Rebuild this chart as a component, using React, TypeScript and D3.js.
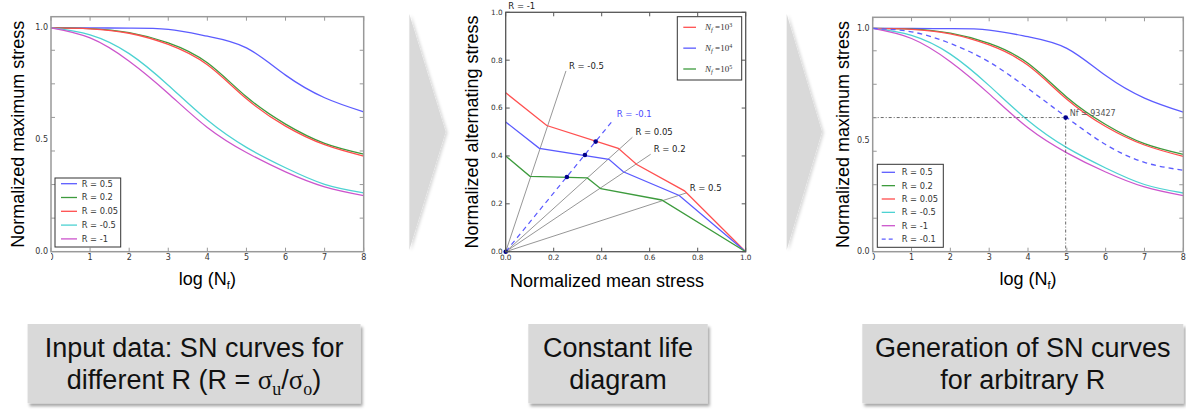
import React, { useRef, useEffect } from "react";
import * as d3 from "d3";

// SN curves: normalized maximum stress vs log(Nf)
const logN = [0, 1, 2, 3, 4, 5, 6, 7, 8];
const snR05 = [1.0, 1.0, 0.999, 0.993, 0.963, 0.911, 0.789, 0.688, 0.625];
const snR02 = [1.0, 0.997, 0.979, 0.933, 0.844, 0.692, 0.57, 0.484, 0.436];
const snR005 = [1.0, 0.996, 0.976, 0.926, 0.835, 0.683, 0.561, 0.478, 0.427];
const snRm05 = [1.0, 0.969, 0.885, 0.744, 0.588, 0.466, 0.375, 0.301, 0.263];
const snRm1 = [1.0, 0.955, 0.851, 0.707, 0.555, 0.443, 0.357, 0.29, 0.251];
const snRm01 = [1.0, 0.985, 0.933, 0.85, 0.731, 0.601, 0.48, 0.4, 0.365];
const snKeys = ["R = 0.5", "R = 0.2", "R = 0.05", "R = -0.5", "R = -1"];
const snColors = ["#5c5cff", "#3d9b3d", "#ff4d4d", "#4dd2d2", "#cc55cc"];
const newKey = "R = -0.1";
const newPoint = { logN: 4.97, stress: 0.601, label: "Nf = 93427" };

// constant life diagram: normalized mean stress / alternating stress
const cldExp = ["3", "4", "5"];
const cldMean = [
  [0, 0.171, 0.469, 0.546, 0.745, 1],
  [0, 0.14, 0.43, 0.49, 0.723, 1],
  [0, 0.101, 0.34, 0.396, 0.65, 1],
];
const cldAlt = [
  [0.664, 0.527, 0.432, 0.364, 0.254, 0],
  [0.542, 0.432, 0.386, 0.334, 0.235, 0],
  [0.4, 0.315, 0.308, 0.263, 0.216, 0],
];
const cldColors = ["#ff5050", "#5a5aff", "#3d9b3d"];
const rRayLabels = ["R = -0.5", "R = 0.05", "R = 0.2", "R = 0.5"];
const rRayMean = [0.251, 0.528, 0.604, 0.754];
const rRayAlt = [0.755, 0.478, 0.407, 0.246];
const newRayEnd = [0.442, 0.543];
const crossMean = [0.375, 0.33, 0.255, 0];
const crossAlt = [0.46, 0.404, 0.312, 0];

const snYLabels = [0, 0.5, 1.0];
const snYTicks = [0.15, 0.3, 0.45, 0.6, 0.75, 0.9];
const cldTicks = [0, 0.2, 0.4, 0.6, 0.8, 1.0];

// "|x|" marks a subscript
const captions = [
  ["Input data: SN curves for", "different R (R = σ|u|/σ|o|)"],
  ["Constant life", "diagram"],
  ["Generation of SN curves", "for arbitrary R"],
];

const SANS = "Liberation Sans, Arial, sans-serif";
const SERIF = "Liberation Serif, serif";
const TICKF = "DejaVu Sans, sans-serif";

const App = () => {
  const svgRef = useRef<SVGSVGElement>(null);

  useEffect(() => {
    const svg = d3.select(svgRef.current);
    svg.selectAll("*").remove();

    const defs = svg.append("defs");
    const shadow = defs.append("filter").attr("id", "shadow")
      .attr("x", "-10%").attr("y", "-10%").attr("width", "130%").attr("height", "140%");
    shadow.append("feDropShadow").attr("dx", 2).attr("dy", 3).attr("stdDeviation", 1.5)
      .attr("flood-color", "#000").attr("flood-opacity", 0.35);
    const ashadow = defs.append("filter").attr("id", "ashadow")
      .attr("x", "-20%").attr("y", "-10%").attr("width", "150%").attr("height", "120%");
    ashadow.append("feDropShadow").attr("dx", 2).attr("dy", 1).attr("stdDeviation", 1.5)
      .attr("flood-color", "#000").attr("flood-opacity", 0.15);

    // arrows between panels
    [[409.3, 445.7], [786.7, 822]].forEach(([l, r]) => {
      svg.append("polygon")
        .attr("points", `${l},14 ${r},131.7 ${l},250`)
        .attr("fill", "#d9d9d9")
        .attr("filter", "url(#ashadow)");
    });

    const drawSN = (f, withNew, legend) => {
      const x = d3.scaleLinear().domain([0, 8]).range([f.left, f.right]);
      const y = d3.scaleLinear().domain([0, 1.05]).range([f.bottom, f.top]);
      const g = svg.append("g");
      const line = d3.line<number>()
        .x((_, i) => x(logN[i]))
        .y((d) => y(d))
        .curve(d3.curveNatural);

      const series = [snR05, snR02, snR005, snRm05, snRm1];
      series.forEach((s, i) => {
        g.append("path").attr("d", line(s)).attr("fill", "none")
          .attr("stroke", snColors[i]).attr("stroke-width", 1.3);
      });

      if (withNew) {
        g.append("path").attr("d", line(snRm01)).attr("fill", "none")
          .attr("stroke", "#5c5cff").attr("stroke-width", 1.3).attr("stroke-dasharray", "5,4");
        const px = x(newPoint.logN);
        const py = y(newPoint.stress);
        g.append("line").attr("x1", x(0)).attr("x2", px).attr("y1", py).attr("y2", py)
          .attr("stroke", "#444").attr("stroke-width", 0.8).attr("stroke-dasharray", "3,2,1,2");
        g.append("line").attr("x1", px).attr("x2", px).attr("y1", py).attr("y2", y(0))
          .attr("stroke", "#444").attr("stroke-width", 0.8).attr("stroke-dasharray", "3,2,1,2");
        g.append("circle").attr("cx", px).attr("cy", py).attr("r", 2.4).attr("fill", "#00008b");
        g.append("text").attr("x", px + 4).attr("y", py - 4.5).attr("dy", "0.32em")
          .attr("font-family", TICKF).attr("font-size", 8).attr("fill", "#555")
          .text(newPoint.label);
      }

      // frame
      g.append("rect").attr("x", f.left).attr("y", f.top)
        .attr("width", f.right - f.left).attr("height", f.bottom - f.top)
        .attr("fill", "none").attr("stroke", "#999").attr("stroke-width", 1.5);

      // ticks
      logN.forEach((v) => {
        g.append("line").attr("x1", x(v)).attr("x2", x(v)).attr("y1", f.bottom).attr("y2", f.bottom - 4).attr("stroke", "#999");
        g.append("line").attr("x1", x(v)).attr("x2", x(v)).attr("y1", f.top).attr("y2", f.top + 4).attr("stroke", "#999");
      });
      snYTicks.forEach((v) => {
        g.append("line").attr("x1", f.left).attr("x2", f.left + 4).attr("y1", y(v)).attr("y2", y(v)).attr("stroke", "#999");
        g.append("line").attr("x1", f.right).attr("x2", f.right - 4).attr("y1", y(v)).attr("y2", y(v)).attr("stroke", "#999");
      });

      // x tick labels, the "0" is cut at the frame like in the source
      const clipId = `clip${Math.round(f.left)}`;
      defs.append("clipPath").attr("id", clipId).append("rect")
        .attr("x", f.left).attr("y", f.bottom).attr("width", f.right - f.left + 20).attr("height", 20);
      const xl = g.append("g").attr("clip-path", `url(#${clipId})`);
      logN.forEach((v) => {
        xl.append("text").attr("x", x(v)).attr("y", f.bottom + 3).attr("dy", "0.71em")
          .attr("text-anchor", "middle").attr("font-family", TICKF).attr("font-size", 8)
          .attr("fill", "#333").text(d3.format("d")(v));
      });
      snYLabels.forEach((v) => {
        g.append("text").attr("x", f.left - 3).attr("y", y(v)).attr("dy", "0.32em")
          .attr("text-anchor", "end").attr("font-family", TICKF).attr("font-size", 8)
          .attr("fill", "#333").text(d3.format(".1f")(v));
      });

      // axis labels
      g.append("text")
        .attr("transform", `translate(${f.ylabX},${(f.top + f.bottom) / 2}) rotate(-90)`)
        .attr("text-anchor", "middle").attr("font-family", SANS).attr("font-size", 18)
        .text("Normalized maximum stress");
      const xt = g.append("text").attr("x", (f.left + f.right) / 2).attr("y", 285)
        .attr("text-anchor", "middle").attr("font-family", SANS).attr("font-size", 18);
      xt.append("tspan").text("log (N");
      xt.append("tspan").attr("font-size", 11).attr("dy", 4).text("f");
      xt.append("tspan").attr("dy", -4).text(")");

      // legend
      const keys = withNew ? [...snKeys, newKey] : snKeys;
      const lg = g.append("g");
      lg.append("rect").attr("x", legend.left).attr("y", legend.top)
        .attr("width", legend.width).attr("height", legend.height)
        .attr("fill", "#fff").attr("stroke", "#333").attr("stroke-width", 1);
      keys.forEach((k, i) => {
        const ly = legend.first + i * legend.step;
        const isNew = i >= snColors.length;
        lg.append("line").attr("x1", legend.left + legend.l0).attr("x2", legend.left + legend.l1)
          .attr("y1", ly).attr("y2", ly)
          .attr("stroke", isNew ? "#5c5cff" : snColors[i]).attr("stroke-width", 1.3)
          .attr("stroke-dasharray", isNew ? "4,3" : null);
        lg.append("text").attr("x", legend.left + legend.tx).attr("y", ly).attr("dy", "0.35em")
          .attr("font-family", TICKF).attr("font-size", 8.3).attr("fill", "#333").text(k);
      });
    };

    drawSN(
      { left: 51, right: 363.7, top: 16.7, bottom: 251.7, ylabX: 23.5 },
      false,
      { left: 55, top: 178, width: 65.7, height: 69, first: 183.7, step: 13.8, l0: 6, l1: 22, tx: 26.7 }
    );
    drawSN(
      { left: 872.7, right: 1183.3, top: 17.3, bottom: 251.7, ylabX: 849 },
      true,
      { left: 877.3, top: 164.3, width: 66, height: 83, first: 172.3, step: 13.35, l0: 4.4, l1: 17.7, tx: 24.4 }
    );

    // constant life diagram
    const mf = { left: 505.7, right: 745.7, top: 12.3, bottom: 251.7 };
    const x = d3.scaleLinear().domain([0, 1]).range([mf.left, mf.right]);
    const y = d3.scaleLinear().domain([0, 1]).range([mf.bottom, mf.top]);
    const g = svg.append("g");

    rRayMean.forEach((m, i) => {
      g.append("line").attr("x1", x(0)).attr("y1", y(0)).attr("x2", x(m)).attr("y2", y(rRayAlt[i]))
        .attr("stroke", "#8a8a8a").attr("stroke-width", 0.9);
      g.append("text").attr("x", x(m) + 3).attr("y", y(rRayAlt[i]) - 5).attr("dy", "0.35em")
        .attr("font-family", TICKF).attr("font-size", 8.5).attr("fill", "#222").text(rRayLabels[i]);
    });
    g.append("line").attr("x1", x(0)).attr("y1", y(0)).attr("x2", x(newRayEnd[0])).attr("y2", y(newRayEnd[1]))
      .attr("stroke", "#5a5aff").attr("stroke-width", 1.2).attr("stroke-dasharray", "5,4");
    g.append("text").attr("x", x(newRayEnd[0]) + 5).attr("y", y(newRayEnd[1]) - 7.5).attr("dy", "0.35em")
      .attr("font-family", TICKF).attr("font-size", 8.5).attr("fill", "#4a4aff").text(newKey);

    const cldLine = d3.line<[number, number]>()
      .x((d) => x(d[0]))
      .y((d) => y(d[1]));
    cldMean.forEach((ms, k) => {
      const pts = ms.map((m, i) => [m, cldAlt[k][i]] as [number, number]);
      g.append("path").attr("d", cldLine(pts)).attr("fill", "none")
        .attr("stroke", cldColors[k]).attr("stroke-width", 1.3);
    });
    crossMean.forEach((m, i) => {
      g.append("circle").attr("cx", x(m)).attr("cy", y(crossAlt[i])).attr("r", 2.3).attr("fill", "#00008b");
    });

    g.append("rect").attr("x", mf.left).attr("y", mf.top)
      .attr("width", mf.right - mf.left).attr("height", mf.bottom - mf.top)
      .attr("fill", "none").attr("stroke", "#555").attr("stroke-width", 1.3);
    cldTicks.forEach((v) => {
      g.append("line").attr("x1", x(v)).attr("x2", x(v)).attr("y1", mf.bottom).attr("y2", mf.bottom - 4).attr("stroke", "#555");
      g.append("line").attr("x1", x(v)).attr("x2", x(v)).attr("y1", mf.top).attr("y2", mf.top + 4).attr("stroke", "#555");
      g.append("line").attr("x1", mf.left).attr("x2", mf.left + 4).attr("y1", y(v)).attr("y2", y(v)).attr("stroke", "#555");
      g.append("line").attr("x1", mf.right).attr("x2", mf.right - 4).attr("y1", y(v)).attr("y2", y(v)).attr("stroke", "#555");
      g.append("text").attr("x", x(v)).attr("y", mf.bottom + 3).attr("dy", "0.71em")
        .attr("text-anchor", "middle").attr("font-family", TICKF).attr("font-size", 7.3)
        .attr("fill", "#333").text(d3.format(".1f")(v));
      g.append("text").attr("x", mf.left - 3).attr("y", y(v)).attr("dy", "0.32em")
        .attr("text-anchor", "end").attr("font-family", TICKF).attr("font-size", 7.3)
        .attr("fill", "#333").text(d3.format(".1f")(v));
    });
    g.append("text").attr("x", x(0) + 2.6).attr("y", y(1) - 6).attr("dy", "0.35em")
      .attr("font-family", TICKF).attr("font-size", 8.5).attr("fill", "#222").text("R = -1");

    g.append("text")
      .attr("transform", `translate(478,${(mf.top + mf.bottom) / 2}) rotate(-90)`)
      .attr("text-anchor", "middle").attr("font-family", SANS).attr("font-size", 18)
      .text("Normalized alternating stress");
    g.append("text").attr("x", 607).attr("y", 287).attr("text-anchor", "middle")
      .attr("font-family", SANS).attr("font-size", 18).text("Normalized mean stress");

    // legend of constant life diagram
    const lg = g.append("g");
    lg.append("rect").attr("x", 677.3).attr("y", 16.7).attr("width", 64.4).attr("height", 63.3)
      .attr("fill", "#fff").attr("stroke", "#333").attr("stroke-width", 1);
    cldExp.forEach((e, i) => {
      const ly = 27.3 + i * 20.85;
      lg.append("line").attr("x1", 683.3).attr("x2", 696).attr("y1", ly).attr("y2", ly)
        .attr("stroke", cldColors[i]).attr("stroke-width", 1.3);
      const t = lg.append("text").attr("x", 705).attr("y", ly).attr("dy", "0.35em")
        .attr("font-family", SERIF).attr("font-size", 9).attr("fill", "#333");
      t.append("tspan").attr("font-style", "italic").text("N");
      t.append("tspan").attr("font-style", "italic").attr("font-size", 6.5).attr("dy", 2).text("f");
      t.append("tspan").attr("dy", -2).text(" =10");
      t.append("tspan").attr("font-size", 6).attr("dy", -3.5).text(e);
    });

    // captions
    const boxes = [
      { left: 27.6, width: 333 },
      { left: 528.3, width: 179.4 },
      { left: 862.3, width: 321 },
    ];
    boxes.forEach((b, i) => {
      svg.append("rect").attr("x", b.left).attr("y", 324).attr("width", b.width).attr("height", 79.3)
        .attr("fill", "#d9d9d9").attr("filter", "url(#shadow)");
      captions[i].forEach((ln, j) => {
        const t = svg.append("text").attr("x", b.left + b.width / 2).attr("y", 356.7 + j * 32.7)
          .attr("text-anchor", "middle").attr("font-family", SANS).attr("font-size", 27).attr("fill", "#111");
        let shift = 0;
        ln.split("|").forEach((p, k) => {
          if (k % 2 === 1) {
            t.append("tspan").attr("font-family", SERIF).attr("font-size", 18).attr("dy", 6).text(p);
            shift = -6;
            return;
          }
          p.split(/(σ)/).filter((c) => c.length).forEach((c) => {
            const ts = t.append("tspan").text(c);
            if (shift) {
              ts.attr("dy", shift);
              shift = 0;
            }
            if (c === "σ") ts.attr("font-family", SERIF);
          });
        });
      });
    });
  }, []);

  return (
    <svg
      ref={svgRef}
      width={1186}
      height={410}
      style={{ position: "absolute", left: 0, top: 0, background: "#fff" }}
    />
  );
};

export default App;
